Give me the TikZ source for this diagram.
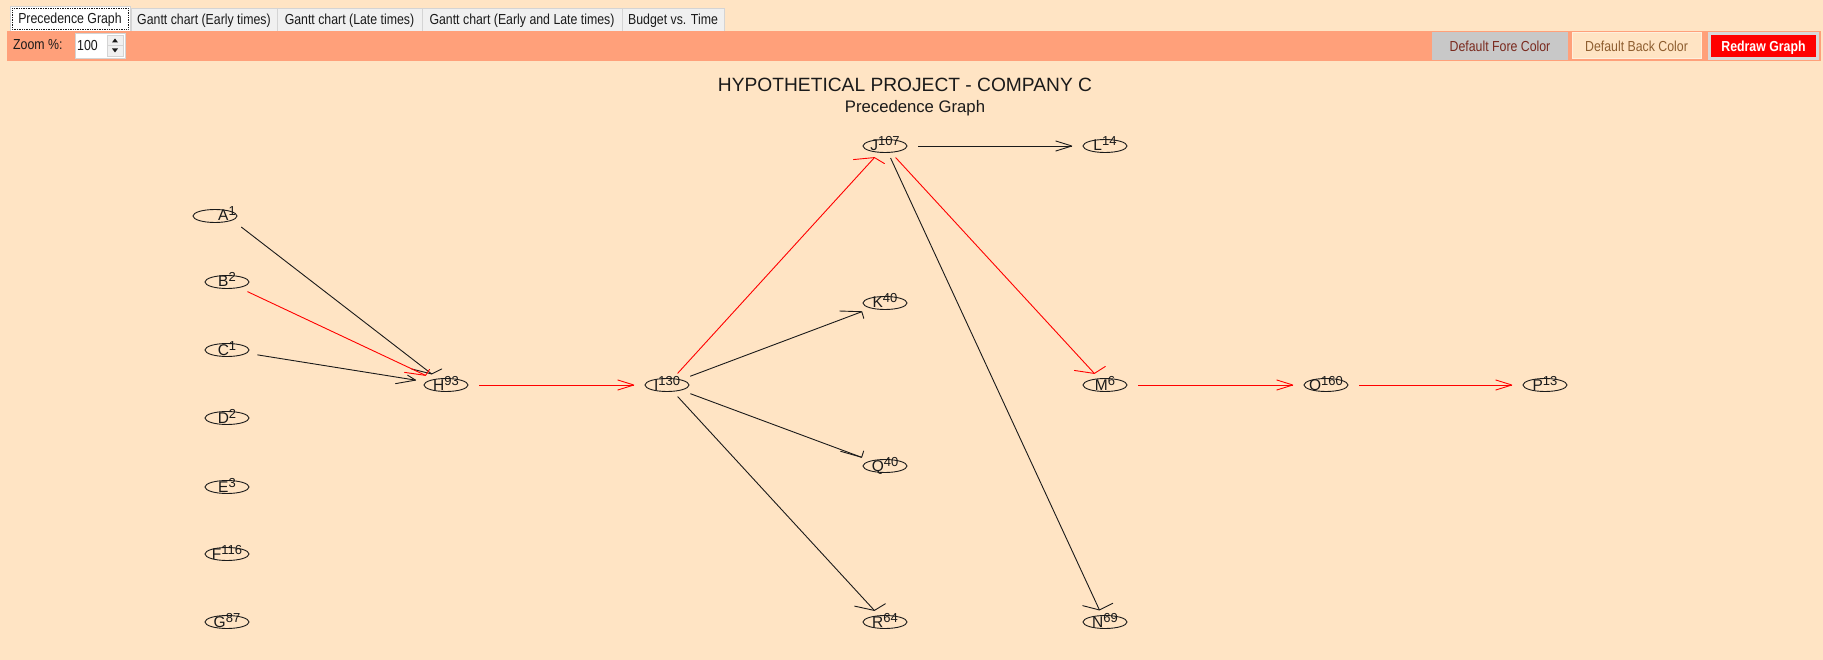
\documentclass[tikz,border=0pt]{standalone}
\usepackage{fontspec}
\setmainfont{Liberation Sans}
\usetikzlibrary{shapes.geometric}
\definecolor{bisque}{HTML}{FFE4C4}
\definecolor{toolbar}{HTML}{FFA07A}
\definecolor{tabfill}{HTML}{F0F0F0}
\definecolor{tabline}{HTML}{D4D4D4}
\definecolor{btngray}{HTML}{C8C8C8}
\definecolor{foretext}{HTML}{7A2A1E}
\definecolor{backtext}{HTML}{8E5E30}
\definecolor{ink}{HTML}{1A1A1A}
\newcommand\uitext[1]{\scalebox{0.85}[1]{\fontsize{14.5}{16}\selectfont #1}}
\newcommand\tasktext[2]{\fontsize{15.5}{16}\selectfont #1\raisebox{5pt}{\fontsize{13}{13}\selectfont #2}}
% one activity: invisible port ellipse (for connectors), drawn oval, label
\newcommand\activity[6]{%
  \node[port] (#1) at (#2,#3) {};
  \node[oval] (#1oval) at (#4,#3) {};
  \node[tasklbl] (#1lbl) at (#2,#3+5) {\tasktext{#5}{#6}};
}
% one precedence link: style, from, to, and the two barbs of its head
\newcommand\link[5]{%
  \draw[#1] (#2) -- coordinate[pos=1] (#2to#3) (#3);
  \draw[#1,line cap=round,line join=round] (#2to#3) -- ++(#4) (#2to#3) -- ++(#5);
}
\begin{document}
\begin{tikzpicture}[x=1pt,y=-1pt,
  port/.style={ellipse,minimum width=66pt,minimum height=24pt,inner sep=0pt},
  oval/.style={ellipse,draw=ink,line width=0.9pt,minimum width=44pt,minimum height=13pt,inner sep=0pt},
  tasklbl/.style={anchor=base,inner sep=0pt,text=ink},
  blk/.style={line width=0.9pt,draw=ink},
  crit/.style={line width=0.9pt,draw=red},
  tab/.style={draw=tabline,fill=tabfill,line width=0.8pt},
  uilbl/.style={anchor=base,inner sep=0pt,text=ink}]
\useasboundingbox (0,0) rectangle (1823,660);
\fill[bisque] (0,0) rectangle (1823,660);

% tab strip
\draw[tab] (131,8) rectangle (277,31);
\draw[tab] (277,8) rectangle (422,31);
\draw[tab] (422,8) rectangle (622,31);
\draw[tab] (622,8) rectangle (724,31);
\draw[draw=tabline,fill=white,line width=0.8pt] (10,6) rectangle (130,31);
\draw[densely dotted,line width=0.7pt,ink] (12,8.5) rectangle (128,29);
\node[uilbl] (tab1) at (70,24) {\uitext{Precedence Graph}};
\node[uilbl] (tab2) at (204,25) {\uitext{Gantt chart (Early times)}};
\node[uilbl] (tab3) at (349.5,25) {\uitext{Gantt chart (Late times)}};
\node[uilbl] (tab4) at (522,25) {\uitext{Gantt chart (Early and Late times)}};
\node[uilbl] (tab5) at (673,25) {\uitext{Budget vs. Time}};

% tool bar
\fill[toolbar] (7,31) rectangle (1821,61);
\node[uilbl,anchor=base west] (zoomlbl) at (13,50) {\uitext{Zoom \%:}};
\draw[draw=tabline,fill=white,line width=0.8pt] (75,33) rectangle (125,58);
\node[uilbl,anchor=base west] (zoomval) at (77,50.5) {\uitext{100}};
\draw[draw=tabline,fill=tabfill,line width=0.6pt] (107,35) rectangle (123,45.5);
\draw[draw=tabline,fill=tabfill,line width=0.6pt] (107,45.5) rectangle (123,56.5);
\fill[ink] (112,42.5) -- (118,42.5) -- (115,38.5) -- cycle;
\fill[ink] (112,48.5) -- (118,48.5) -- (115,52.5) -- cycle;

\fill[btngray] (1432,32) rectangle (1568,60);
\node[uilbl,text=foretext] (forebtn) at (1500,51.5) {\uitext{Default Fore Color}};
\draw[draw=white!40!bisque,fill=bisque,line width=1pt] (1572,33) rectangle (1701,59);
\node[uilbl,text=backtext] (backbtn) at (1636.5,51.5) {\uitext{Default Back Color}};
\fill[black!15] (1708,32) rectangle (1819,60);
\fill[red] (1711,35) rectangle (1816,57);
\node[uilbl,text=white] (redraw) at (1763.5,51.5) {\uitext{\bfseries Redraw Graph}};

% headings
\node[uilbl] (title) at (905,92) {\fontsize{19.2}{20}\selectfont HYPOTHETICAL PROJECT - COMPANY C};
\node[uilbl] (subtitle) at (915,113) {\fontsize{16.7}{18}\selectfont Precedence Graph};

% activities: name, x (label/port), y, x (oval), letter, duration
\activity{A}{227}{216}{215}{A}{1}
\activity{B}{227}{282}{227}{B}{2}
\activity{C}{227}{350}{227}{C}{1}
\activity{D}{227}{418}{227}{D}{2}
\activity{E}{227}{487}{227}{E}{3}
\activity{F}{227}{554}{227}{F}{116}
\activity{G}{227}{622}{227}{G}{87}
\activity{H}{446}{385}{446}{H}{93}
\activity{I}{667}{385}{667}{I}{130}
\activity{J}{885}{146}{885}{J}{107}
\activity{K}{885}{303}{885}{K}{40}
\activity{Q}{885}{466}{885}{Q}{40}
\activity{R}{885}{622}{885}{R}{64}
\activity{L}{1105}{146}{1105}{L}{14}
\activity{M}{1105}{385}{1105}{M}{6}
\activity{N}{1105}{622}{1105}{N}{69}
\activity{O}{1326}{385}{1326}{O}{160}
\activity{P}{1545}{385}{1545}{P}{13}

% precedence links (critical path in red)
\link{blk}{A}{H}{-20,-5}{10,-5}
\link{crit}{B}{H}{-21,-3}{4,-6}
\link{blk}{C}{H}{-20,3.5}{-8,-5}
\link{crit}{H}{I}{-16,-5}{-16,5}
\link{crit}{I}{J}{-21,2}{10,6}
\link{blk}{I}{K}{-22,-0.7}{2,6.7}
\link{blk}{I}{Q}{-21,-6}{2,-6.3}
\link{blk}{I}{R}{-19.7,-4.3}{11,-6.7}
\link{blk}{J}{L}{-16,-5}{-16,5}
\link{crit}{J}{M}{-20,-3}{11,-7}
\link{blk}{J}{N}{-16.7,-4.3}{13.3,-6.7}
\link{crit}{M}{O}{-16,-5}{-16,5}
\link{crit}{O}{P}{-16,-5}{-16,5}
\end{tikzpicture}
\end{document}
